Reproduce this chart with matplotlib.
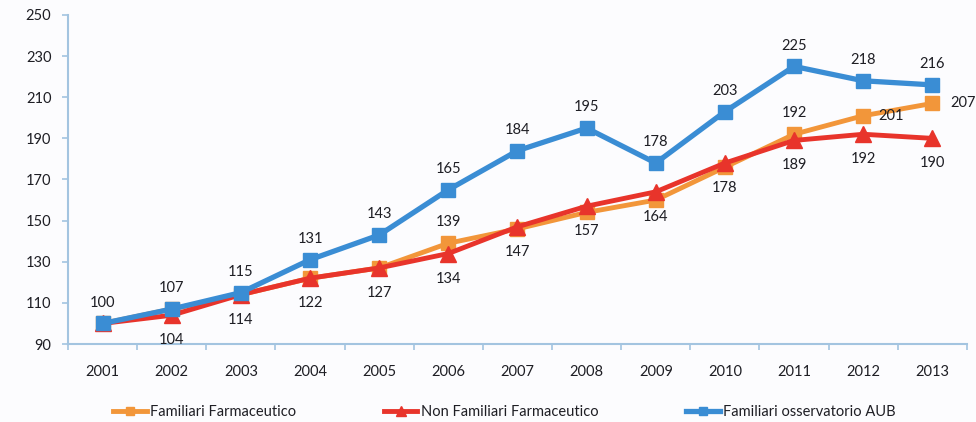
#!/usr/bin/env python
#
# Andamento indice (2001 = 100) per tre serie, 2001-2013
#

import numpy as np
import matplotlib.pyplot as plt

################################################################################
# Dati
################################################################################
anni = ['2001', '2002', '2003', '2004', '2005', '2006', '2007',
        '2008', '2009', '2010', '2011', '2012', '2013']

fam_farm = [100, 107, 114, 122, 127, 139, 146, 154, 160, 176, 192, 201, 207]
non_fam_farm = [100, 104, 114, 122, 127, 134, 147, 157, 164, 178, 189, 192, 190]
fam_aub = [100, 107, 115, 131, 143, 165, 184, 195, 178, 203, 225, 218, 216]

# etichette della serie arancione visibili solo dove si separa dalle altre
anni_lab_farm = ['2006', '2011', '2012', '2013']

################################################################################
# Stile
################################################################################
plt.rcParams['font.family'] = ['Lato', 'DejaVu Sans']
plt.rcParams['font.size'] = 10

c_orange = '#f2963a'
c_red = '#e8342b'
c_blue = '#3a8dd4'
c_axis = '#a3c4e0'
c_text = '#1e1e24'

fig = plt.figure(figsize=(9.76, 4.22), dpi=100, facecolor='#fcfcfe')
ax = fig.add_axes([0.0697, 0.1848, 0.921, 0.7797])
ax.set_facecolor('#fcfcfe')

x = np.arange(len(anni))

################################################################################
# Linee
################################################################################
ax.plot(x, fam_farm, color=c_orange, lw=3.5, marker='s', ms=10,
        label='Familiari Farmaceutico', zorder=3)
ax.plot(x, non_fam_farm, color=c_red, lw=3.5, marker='^', ms=11,
        label='Non Familiari Farmaceutico', zorder=4)
ax.plot(x, fam_aub, color=c_blue, lw=3.8, marker='s', ms=10,
        label='Familiari osservatorio AUB', zorder=5)

# etichette dei valori
lab = dict(ha='center', va='center', color=c_text, fontsize=10.5,
           textcoords='offset points', zorder=6)
for xi, v in zip(x, fam_aub):
    ax.annotate(str(v), (xi, v), xytext=(0, 15), **lab)
for xi, v in zip(x[1:], non_fam_farm[1:]):
    ax.annotate(str(v), (xi, v), xytext=(0, -18), **lab)
offs = {'2006': (0, 15), '2011': (0, 15), '2012': (20, 0), '2013': (22, 0)}
for a in anni_lab_farm:
    i = anni.index(a)
    ax.annotate(str(fam_farm[i]), (x[i], fam_farm[i]), xytext=offs[a], **lab)

################################################################################
# Assi
################################################################################
ax.set_xlim(-0.5, len(anni) - 0.5)
ax.set_ylim(90, 250)
ax.set_yticks(np.arange(90, 251, 20))
ax.set_xticks(x)
ax.set_xticklabels(anni)
ax.set_xticks(np.arange(-0.5, len(anni)), minor=True)

for s in ['top', 'right']:
    ax.spines[s].set_visible(False)
for s in ['left', 'bottom']:
    ax.spines[s].set_color(c_axis)
    ax.spines[s].set_linewidth(1.5)

ax.tick_params(axis='x', which='major', length=0, pad=15, colors=c_text,
               labelsize=10.5)
ax.tick_params(axis='x', which='minor', length=4, width=1.2, color=c_axis)
ax.tick_params(axis='y', length=4, width=1.2, color=c_axis, labelcolor=c_text,
               labelsize=10.5, pad=8)

################################################################################
# Legenda
################################################################################
fig.legend(loc='center', bbox_to_anchor=(0.517, 0.024), ncol=3, frameon=False,
           prop={'size': 10.5}, handlelength=2.3,
           handletextpad=0.25, columnspacing=6.0, markerscale=0.6,
           labelcolor=c_text)

fig.savefig('out.png', dpi=100, facecolor=fig.get_facecolor())
